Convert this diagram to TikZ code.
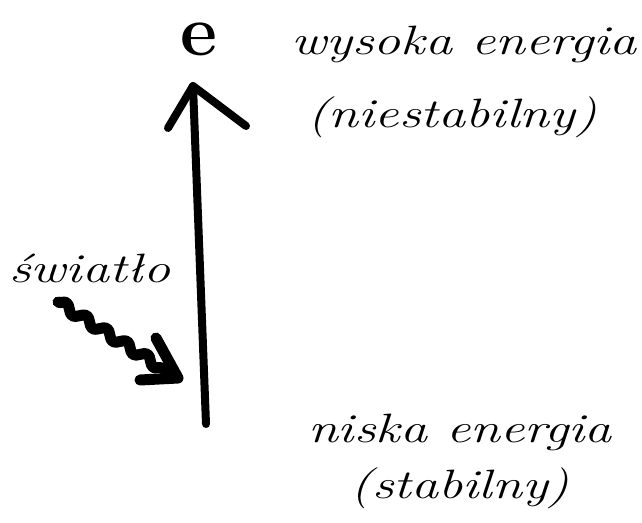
\documentclass[tikz,border=0pt]{standalone}
\usetikzlibrary{decorations.pathmorphing}
\begin{document}
\begin{tikzpicture}[x=1pt,y=-1pt,
  lbl/.style={font=\itshape\fontsize{41}{45}\selectfont, inner sep=0pt, xscale=1.32},
  thickline/.style={line width=8pt, line cap=round, line join=round},
  wave/.style={line width=11pt, line cap=round, line join=round}]
\useasboundingbox (0,0) rectangle (642,522);
\node[font=\bfseries\fontsize{40}{40}\selectfont, inner sep=0pt, scale=1.8] (e) at (199,39) {e};
\node[lbl] (hi) at (464,44) {wysoka energia};
\node[lbl] (hin) at (452,117) {(niestabilny)};
\node[lbl] (lo) at (460,432) {niska energia};
\node[lbl] (lon) at (460,488) {(stabilny)};
\node[lbl] (light) at (90,268) {światło};
\coordinate (bot) at (206,424);
\coordinate (top) at (193,86);
\coordinate (hl) at (168,128);
\coordinate (hr) at (246,126);
\draw[thickline] (bot) -- (top);
\draw[thickline] (hl) -- (top) -- (hr);
\coordinate (ws) at (58,302);
\coordinate (we) at (168,372);
\draw[wave, decorate, decoration={snake, amplitude=4pt, segment length=24pt, post length=2pt}] (ws) -- (we);
\coordinate (ah1) at (140,380);
\coordinate (ah2) at (156,338);
\draw[wave] (ah2) -- (178,378) -- (ah1);
\end{tikzpicture}
\end{document}
